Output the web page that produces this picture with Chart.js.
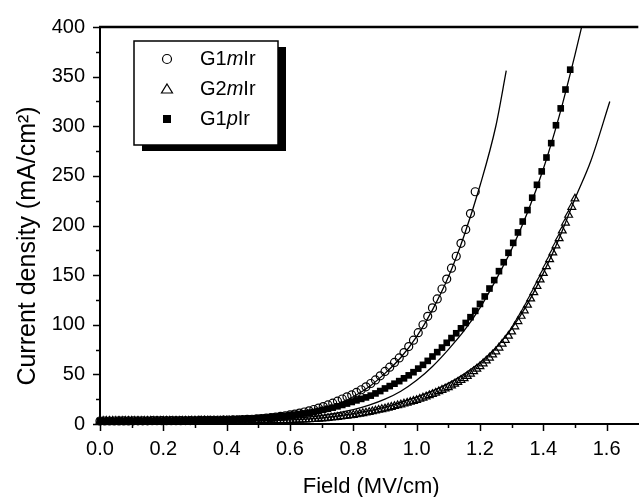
<!DOCTYPE html>
<html>
<head>
<meta charset="utf-8">
<script src="https://cdn.jsdelivr.net/npm/chart.js@4.4.0/dist/chart.umd.min.js"></script>
<style>
  html, body { margin: 0; padding: 0; background: #fff; }
  #wrap { width: 644px; height: 497px; }
</style>
</head>
<body>
<div id="wrap"><canvas id="myChart" width="644" height="497"></canvas></div>
<script>
// field grid of the G1mIr / G1pIr measurements (MV/cm)
var fieldA = [
    0, 0.015, 0.03, 0.045, 0.06, 0.075, 0.09, 0.105, 0.12, 0.135,
    0.15, 0.165, 0.18, 0.195, 0.21, 0.225, 0.24, 0.255, 0.27, 0.285,
    0.3, 0.315, 0.33, 0.345, 0.36, 0.375, 0.39, 0.405, 0.42, 0.435,
    0.45, 0.465, 0.48, 0.495, 0.51, 0.525, 0.54, 0.555, 0.57, 0.585,
    0.6, 0.615, 0.63, 0.645, 0.66, 0.675, 0.69, 0.705, 0.72, 0.735,
    0.75, 0.765, 0.78, 0.795, 0.81, 0.825, 0.84, 0.855, 0.87, 0.885,
    0.9, 0.915, 0.93, 0.945, 0.96, 0.975, 0.99, 1.005, 1.02, 1.035,
    1.05, 1.065, 1.08, 1.095, 1.11, 1.125, 1.14, 1.155, 1.17, 1.185,
    1.2, 1.215, 1.23, 1.245, 1.26, 1.275, 1.29, 1.305, 1.32, 1.335,
    1.35, 1.365, 1.38, 1.395, 1.41, 1.425, 1.44, 1.455, 1.47, 1.485
];
// field grid of the G2mIr measurement (MV/cm)
var fieldB = [
    0, 0.01, 0.02, 0.03, 0.04, 0.05, 0.06, 0.07, 0.08, 0.09,
    0.1, 0.11, 0.12, 0.13, 0.14, 0.15, 0.16, 0.17, 0.18, 0.19,
    0.2, 0.21, 0.22, 0.23, 0.24, 0.25, 0.26, 0.27, 0.28, 0.29,
    0.3, 0.31, 0.32, 0.33, 0.34, 0.35, 0.36, 0.37, 0.38, 0.39,
    0.4, 0.41, 0.42, 0.43, 0.44, 0.45, 0.46, 0.47, 0.48, 0.49,
    0.5, 0.51, 0.52, 0.53, 0.54, 0.55, 0.56, 0.57, 0.58, 0.59,
    0.6, 0.61, 0.62, 0.63, 0.64, 0.65, 0.66, 0.67, 0.68, 0.69,
    0.7, 0.71, 0.72, 0.73, 0.74, 0.75, 0.76, 0.77, 0.78, 0.79,
    0.8, 0.81, 0.82, 0.83, 0.84, 0.85, 0.86, 0.87, 0.88, 0.89,
    0.9, 0.91, 0.92, 0.93, 0.94, 0.95, 0.96, 0.97, 0.98, 0.99,
    1.0, 1.01, 1.02, 1.03, 1.04, 1.05, 1.06, 1.07, 1.08, 1.09,
    1.1, 1.11, 1.12, 1.13, 1.14, 1.15, 1.16, 1.17, 1.18, 1.19,
    1.2, 1.21, 1.22, 1.23, 1.24, 1.25, 1.26, 1.27, 1.28, 1.29,
    1.3, 1.31, 1.32, 1.33, 1.34, 1.35, 1.36, 1.37, 1.38, 1.39,
    1.4, 1.41, 1.42, 1.43, 1.44, 1.45, 1.46, 1.47, 1.48, 1.49,
    1.5
];

// current density (mA/cm2)
var g1mIr = [
    3.0, 3.0, 3.0, 3.0, 3.1, 3.1, 3.1, 3.2, 3.2, 3.2,
    3.2, 3.3, 3.3, 3.3, 3.3, 3.4, 3.4, 3.4, 3.5, 3.5,
    3.5, 3.6, 3.6, 3.7, 3.8, 3.8, 3.9, 4.0, 4.1, 4.2,
    4.4, 4.6, 4.8, 5.1, 5.5, 5.9, 6.4, 7.0, 7.6, 8.3,
    9.1, 10.0, 11.0, 12.1, 13.3, 14.6, 16.0, 17.6, 19.2, 21.0,
    23.0, 25.2, 27.4, 29.3, 31.8, 34.5, 37.5, 40.8, 44.4, 48.5,
    53.0, 57.3, 62.0, 66.6, 72.0, 78.0, 84.5, 92.0, 100.0, 108.5,
    117, 126, 136, 146, 157, 169, 182, 196, 212, 234
];
var g1pIr = [
    3.0, 3.0, 3.0, 3.0, 3.0, 3.0, 3.1, 3.1, 3.1, 3.1,
    3.2, 3.2, 3.2, 3.3, 3.3, 3.3, 3.4, 3.4, 3.5, 3.5,
    3.6, 3.7, 3.8, 3.9, 4.0, 4.1, 4.3, 4.4, 4.6, 4.8,
    5.0, 5.2, 5.5, 5.8, 6.1, 6.5, 6.9, 7.4, 7.9, 8.4,
    9.0, 9.5, 10.1, 10.7, 11.4, 12.1, 13.2, 14.3, 15.4, 16.5,
    17.8, 19.2, 20.6, 22.2, 23.8, 25.3, 26.8, 28.6, 30.8, 33.2,
    35.8, 38.2, 40.6, 43.2, 46.0, 49.0, 52.2, 55.8, 59.6, 63.6,
    68.0, 72.4, 77.0, 81.8, 86.6, 91.4, 96.4, 101.8, 107.6, 114.0,
    121, 128.5, 136.5, 145, 154, 163, 172.5, 182.5, 193, 204,
    215.5, 228, 241, 254.5, 268.5, 283, 301, 318, 337, 357
];
var g2mIr = [
    3.0, 3.0, 3.0, 3.0, 3.0, 3.0, 3.0, 3.0, 3.0, 3.0,
    3.0, 3.0, 3.0, 3.0, 3.0, 3.0, 3.1, 3.1, 3.1, 3.1,
    3.1, 3.1, 3.1, 3.1, 3.1, 3.1, 3.1, 3.1, 3.1, 3.2,
    3.2, 3.2, 3.2, 3.2, 3.2, 3.2, 3.2, 3.2, 3.2, 3.2,
    3.2, 3.2, 3.3, 3.3, 3.3, 3.3, 3.3, 3.3, 3.4, 3.4,
    3.4, 3.4, 3.4, 3.5, 3.5, 3.6, 3.6, 3.7, 3.7, 3.8,
    3.9, 4.0, 4.1, 4.2, 4.3, 4.5, 4.6, 4.8, 5.0, 5.2,
    5.4, 5.7, 6.0, 6.3, 6.6, 7.0, 7.4, 7.8, 8.2, 8.6,
    9.0, 9.6, 10.2, 10.8, 11.4, 12.0, 12.7, 13.4, 14.1, 14.8,
    15.5, 16.3, 17.1, 17.9, 18.7, 19.5, 20.4, 21.3, 22.2, 23.1,
    24.0, 25.2, 26.4, 27.6, 28.8, 30.0, 31.4, 32.8, 34.2, 35.6,
    37.0, 38.7, 40.4, 42.2, 44.1, 46.0, 48.3, 50.6, 53.0, 55.5,
    58.0, 60.9, 63.8, 66.7, 69.8, 73.0, 76.8, 80.7, 84.6, 88.8,
    93.0, 98.2, 103.5, 108.8, 114.3, 120.0, 126.3, 132.6, 139.0, 145.5,
    152.0, 158.9, 165.8, 172.7, 179.8, 187.0, 194.8, 202.7, 210.6, 218.6,
    227
];

// fitted curves
var fit1Field = [0, 0.2, 0.4, 0.5, 0.6, 0.65, 0.7, 0.75, 0.8, 0.85, 0.9, 0.95, 1.0, 1.05, 1.1, 1.15, 1.2, 1.25, 1.283];
var fit1Current = [2.8, 3.0, 3.6, 4.6, 7.8, 10.5, 14.5, 20, 27.5, 37.5, 51, 67, 88, 115, 148, 190, 240, 300, 356];
var fit2Field = [0, 0.2, 0.4, 0.5, 0.6, 0.7, 0.8, 0.85, 0.9, 0.95, 1.0, 1.05, 1.1, 1.15, 1.2, 1.25, 1.3, 1.35, 1.4, 1.45, 1.5, 1.53];
var fit2Current = [2.8, 2.9, 3.3, 4.0, 5.4, 8.5, 14.5, 19, 25, 33, 44, 58, 75, 94, 117, 145, 176, 213, 257, 310, 372, 412];
var fit3Field = [0, 0.2, 0.4, 0.5, 0.6, 0.7, 0.8, 0.9, 1.0, 1.1, 1.2, 1.25, 1.3, 1.35, 1.4, 1.45, 1.5, 1.55, 1.61];
var fit3Current = [2.8, 2.9, 3.0, 3.3, 4.2, 6.2, 10.5, 17, 27, 41, 62, 77, 96, 121, 152, 187, 227, 265, 325];

var xTicks = [0, 0.2, 0.4, 0.6, 0.8, 1.0, 1.2, 1.4, 1.6];
var xMinor = [0.1, 0.3, 0.5, 0.7, 0.9, 1.1, 1.3, 1.5];
var yTicks = [0, 50, 100, 150, 200, 250, 300, 350, 400];
var yMinor = [25, 75, 125, 175, 225, 275, 325, 375];

var FONT = "'Liberation Sans', Arial, sans-serif";

function pairs(xs, ys) {
    var out = [];
    for (var i = 0; i < ys.length; i++) out.push({x: xs[i], y: ys[i]});
    return out;
}

function fitLine(xs, ys) {
    return {
        type: 'line',
        data: pairs(xs, ys),
        showLine: true,
        borderColor: '#000',
        borderWidth: 1.3,
        pointRadius: 0,
        fill: false,
        cubicInterpolationMode: 'monotone'
    };
}

var framePlugin = {
    id: 'frame',
    afterDraw: function(chart) {
        var ctx = chart.ctx, a = chart.chartArea;
        var xs = chart.scales.x, ys = chart.scales.y;
        ctx.save();
        ctx.strokeStyle = '#000';
        ctx.fillStyle = '#000';

        // top border
        ctx.lineWidth = 2.5;
        ctx.beginPath();
        ctx.moveTo(a.left - 1, a.top);
        ctx.lineTo(a.right, a.top);
        ctx.stroke();

        // tick marks, outside
        ctx.lineWidth = 1.5;
        ctx.beginPath();
        yTicks.forEach(function(v) {
            var p = Math.round(ys.getPixelForValue(v)) + 0.5;
            ctx.moveTo(a.left - 7, p); ctx.lineTo(a.left, p);
        });
        yMinor.forEach(function(v) {
            var p = Math.round(ys.getPixelForValue(v)) + 0.5;
            ctx.moveTo(a.left - 4, p); ctx.lineTo(a.left, p);
        });
        xTicks.forEach(function(v) {
            var p = Math.round(xs.getPixelForValue(v)) + 0.5;
            ctx.moveTo(p, a.bottom); ctx.lineTo(p, a.bottom + 7);
        });
        xMinor.forEach(function(v) {
            var p = Math.round(xs.getPixelForValue(v)) + 0.5;
            ctx.moveTo(p, a.bottom); ctx.lineTo(p, a.bottom + 4);
        });
        ctx.stroke();

        // axis titles
        ctx.textAlign = 'center';
        ctx.textBaseline = 'alphabetic';
        ctx.font = '22px ' + FONT;
        ctx.fillText('Field (MV/cm)', (a.left + a.right) / 2 + 2, 493);

        ctx.save();
        ctx.translate(35, 246);
        ctx.rotate(-Math.PI / 2);
        ctx.font = '25px ' + FONT;
        ctx.fillText('Current density (mA/cm\u00b2)', 0, 0);
        ctx.restore();

        // legend with drop shadow
        var bx = 134, by = 41, bw = 144, bh = 104;
        ctx.fillRect(bx + 8, by + 6, bw, bh);
        ctx.fillStyle = '#fff';
        ctx.fillRect(bx, by, bw, bh);
        ctx.lineWidth = 1.5;
        ctx.strokeRect(bx, by, bw, bh);

        var mx = 167, rows = [59, 89, 119];
        ctx.lineWidth = 1.2;
        ctx.beginPath();
        ctx.arc(mx, rows[0], 4.5, 0, Math.PI * 2);
        ctx.stroke();
        ctx.beginPath();
        ctx.moveTo(mx, rows[1] - 5);
        ctx.lineTo(mx + 5.5, rows[1] + 4);
        ctx.lineTo(mx - 5.5, rows[1] + 4);
        ctx.closePath();
        ctx.stroke();
        ctx.fillStyle = '#000';
        ctx.fillRect(mx - 4, rows[2] - 4, 8, 8);

        var names = [['G1', 'm', 'Ir'], ['G2', 'm', 'Ir'], ['G1', 'p', 'Ir']];
        ctx.textAlign = 'left';
        ctx.textBaseline = 'middle';
        names.forEach(function(parts, i) {
            var x = 200;
            ctx.font = '20px ' + FONT;
            ctx.fillText(parts[0], x, rows[i]);
            x += ctx.measureText(parts[0]).width;
            ctx.font = 'italic 20px ' + FONT;
            ctx.fillText(parts[1], x, rows[i]);
            x += ctx.measureText(parts[1]).width;
            ctx.font = '20px ' + FONT;
            ctx.fillText(parts[2], x, rows[i]);
        });

        ctx.restore();
    }
};

Chart.defaults.font.family = FONT;
Chart.defaults.color = '#000';

var ctx1 = document.getElementById('myChart').getContext('2d');
var myChart = new Chart(ctx1, {
    type: 'scatter',
    data: {
        datasets: [
            fitLine(fit1Field, fit1Current),
            fitLine(fit2Field, fit2Current),
            fitLine(fit3Field, fit3Current),
            {
                label: 'G1mIr',
                data: pairs(fieldA, g1mIr),
                pointStyle: 'circle',
                pointRadius: 4,
                pointBorderWidth: 1.2,
                pointBorderColor: '#000',
                pointBackgroundColor: 'rgba(255,255,255,0)',
                clip: false
            },
            {
                label: 'G2mIr',
                data: pairs(fieldB, g2mIr),
                pointStyle: 'triangle',
                pointRadius: 4.5,
                pointBorderWidth: 1.2,
                pointBorderColor: '#000',
                pointBackgroundColor: 'rgba(255,255,255,0)',
                clip: false
            },
            {
                label: 'G1pIr',
                data: pairs(fieldA, g1pIr),
                pointStyle: 'rect',
                pointRadius: 4.7,
                pointBorderWidth: 0,
                pointBorderColor: '#000',
                pointBackgroundColor: '#000',
                clip: false
            }
        ]
    },
    options: {
        responsive: false,
        animation: false,
        events: [],
        layout: { padding: { top: 22, right: 0, bottom: 0, left: 0 } },
        plugins: {
            legend: { display: false },
            tooltip: { enabled: false }
        },
        scales: {
            x: {
                type: 'linear',
                min: 0,
                max: 1.7,
                afterFit: function(scale) { scale.height = 73; },
                afterBuildTicks: function(scale) {
                    scale.ticks = xTicks.map(function(v) { return {value: v}; });
                },
                ticks: {
                    font: { size: 20 },
                    padding: 13,
                    maxRotation: 0,
                    callback: function(v) { return v.toFixed(1); }
                },
                grid: { display: false, drawTicks: false },
                border: { display: true, color: '#000', width: 2 }
            },
            y: {
                min: 0,
                max: 400,
                afterFit: function(scale) { scale.width = 100; },
                afterBuildTicks: function(scale) {
                    scale.ticks = yTicks.map(function(v) { return {value: v}; });
                },
                ticks: {
                    font: { size: 20 },
                    padding: 15
                },
                grid: { display: false, drawTicks: false },
                border: { display: true, color: '#000', width: 2 }
            }
        }
    },
    plugins: [framePlugin]
});
</script>
</body>
</html>
